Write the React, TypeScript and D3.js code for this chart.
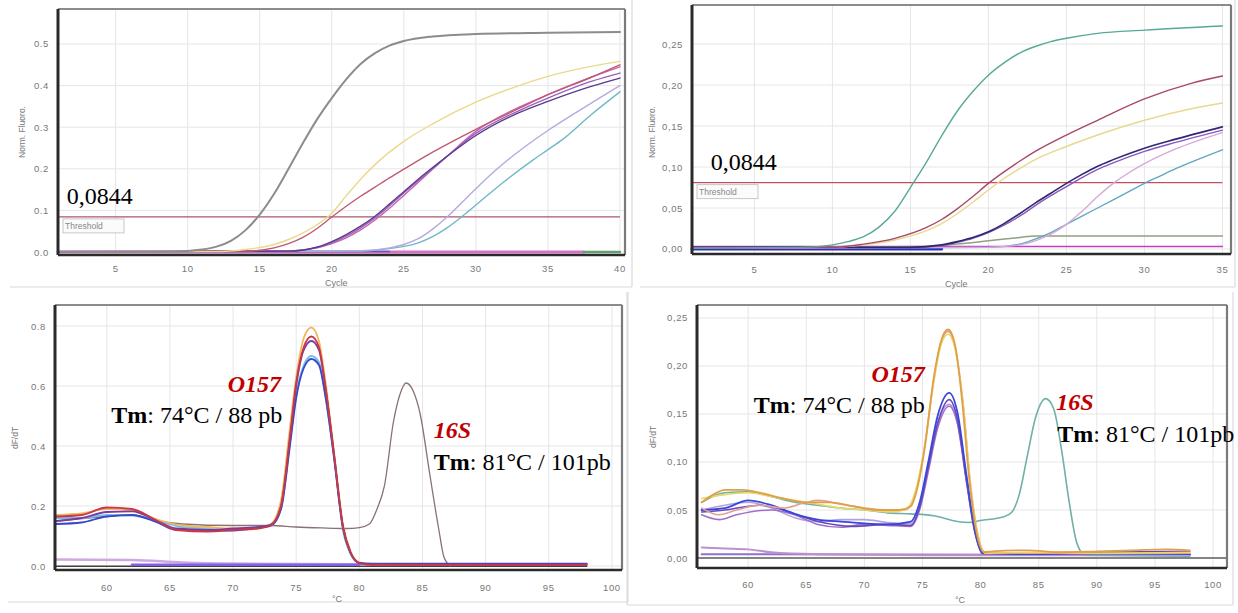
import React from 'react';
import * as d3 from 'd3';

type Pt = [number, number];

interface Series {
    pts: Pt[];
    color: string;
    width?: number;
}

// ---------- top-left: amplification, cycles 1..40 ----------
const ampA_gray: Pt[] = [[1, 0], [9, 0.001], [11, 0.006], [12, 0.013], [13, 0.027], [14, 0.052], [15, 0.09], [16, 0.14], [17, 0.2], [18, 0.262], [19, 0.32], [20, 0.37], [21, 0.415], [22, 0.452], [23, 0.478], [24, 0.496], [25, 0.507], [27, 0.518], [30, 0.524], [35, 0.527], [40, 0.529]];
const ampA_yellow: Pt[] = [[1, 0], [12, 0.001], [14, 0.006], [16, 0.018], [17, 0.03], [18, 0.046], [19, 0.066], [20, 0.093], [21, 0.135], [22, 0.175], [23, 0.21], [24, 0.24], [25, 0.266], [27, 0.308], [30, 0.36], [33, 0.4], [35, 0.422], [38, 0.446], [40, 0.458]];
const ampA_red: Pt[] = [[1, 0], [14, 0.002], [16, 0.01], [17, 0.02], [18, 0.035], [19, 0.057], [20, 0.084], [21, 0.11], [22, 0.134], [23, 0.156], [24, 0.178], [25, 0.199], [27, 0.24], [30, 0.295], [33, 0.345], [35, 0.378], [38, 0.42], [40, 0.45]];
const ampA_purple: Pt[] = [[1, 0], [17, 0.002], [19, 0.012], [20, 0.025], [21, 0.042], [22, 0.062], [23, 0.086], [24, 0.115], [25, 0.145], [26, 0.175], [27, 0.203], [28, 0.23], [30, 0.28], [33, 0.335], [35, 0.362], [38, 0.398], [40, 0.418]];
const ampA_violet: Pt[] = [[1, 0], [17, 0.002], [19, 0.011], [20, 0.022], [21, 0.038], [22, 0.058], [23, 0.082], [24, 0.111], [25, 0.142], [27, 0.2], [30, 0.285], [33, 0.34], [35, 0.37], [38, 0.41], [40, 0.43]];
const ampA_magenta: Pt[] = [[1, 0], [17, 0.002], [19, 0.01], [20, 0.02], [21, 0.034], [22, 0.053], [23, 0.077], [24, 0.105], [25, 0.136], [28, 0.23], [30, 0.29], [33, 0.348], [35, 0.378], [38, 0.42], [40, 0.445]];
const ampA_lavender: Pt[] = [[1, 0], [22, 0.003], [24, 0.01], [25, 0.018], [26, 0.032], [27, 0.055], [28, 0.084], [29, 0.118], [30, 0.152], [31, 0.185], [32, 0.215], [34, 0.268], [35, 0.292], [37, 0.336], [40, 0.4]];
const ampA_teal: Pt[] = [[1, 0], [22, 0.002], [24, 0.008], [26, 0.022], [27, 0.037], [28, 0.058], [29, 0.084], [30, 0.113], [31, 0.142], [32, 0.17], [34, 0.222], [35, 0.246], [36, 0.27], [38, 0.33], [40, 0.385]];
const ampA_pink: Pt[] = [[1, 0], [37.5, 0]];
const ampA_green: Pt[] = [[37.5, 0], [40, 0]];
const ampA_blue: Pt[] = [[1, 0.001], [24, 0.001]];
const ampA_threshold: Pt[] = [[1, 0.0844], [40, 0.0844]];

// ---------- top-right: amplification, cycles 1..35 ----------
const ampB_teal: Pt[] = [[1, 0.001], [8, 0.002], [10, 0.005], [11, 0.009], [12, 0.015], [13, 0.027], [14, 0.046], [15, 0.075], [16, 0.105], [17, 0.138], [18, 0.168], [19, 0.192], [20, 0.212], [21, 0.227], [22, 0.239], [23, 0.247], [24, 0.253], [25, 0.257], [27, 0.263], [30, 0.267], [35, 0.272]];
const ampB_red: Pt[] = [[1, 0.001], [10, 0.002], [12, 0.006], [14, 0.013], [16, 0.026], [17, 0.036], [18, 0.049], [19, 0.064], [20, 0.08], [21, 0.094], [22, 0.107], [23, 0.119], [25, 0.139], [27, 0.157], [30, 0.183], [33, 0.202], [35, 0.211]];
const ampB_yellow: Pt[] = [[1, 0.001], [10, 0.002], [12, 0.005], [14, 0.011], [16, 0.022], [17, 0.031], [18, 0.043], [19, 0.057], [20, 0.072], [21, 0.086], [22, 0.098], [23, 0.109], [25, 0.125], [27, 0.139], [30, 0.157], [33, 0.171], [35, 0.178]];
const ampB_navy: Pt[] = [[1, 0.002], [15, 0.002], [17, 0.005], [18, 0.009], [19, 0.014], [20, 0.021], [21, 0.031], [22, 0.043], [23, 0.056], [24, 0.068], [25, 0.08], [26, 0.091], [27, 0.101], [28, 0.109], [30, 0.123], [32, 0.134], [35, 0.149]];
const ampB_violet: Pt[] = [[1, 0.002], [15, 0.002], [17, 0.004], [18, 0.008], [19, 0.013], [20, 0.02], [21, 0.029], [22, 0.04], [23, 0.053], [24, 0.065], [25, 0.076], [26, 0.087], [27, 0.097], [28, 0.105], [30, 0.119], [32, 0.13], [35, 0.145]];
const ampB_lavender: Pt[] = [[1, 0.001], [20, 0.002], [22, 0.005], [23, 0.01], [24, 0.018], [25, 0.03], [26, 0.046], [27, 0.064], [28, 0.08], [29, 0.093], [30, 0.104], [32, 0.122], [35, 0.142]];
const ampB_cyan: Pt[] = [[1, 0.001], [20, 0.002], [22, 0.006], [23, 0.012], [24, 0.02], [25, 0.03], [26, 0.04], [27, 0.05], [28, 0.06], [29, 0.07], [30, 0.08], [31, 0.089], [32, 0.098], [33, 0.106], [35, 0.121]];
const ampB_olive: Pt[] = [[1, 0.001], [16, 0.003], [18, 0.006], [20, 0.01], [22, 0.014], [23, 0.016], [35, 0.016]];
const ampB_magenta: Pt[] = [[1, 0.003], [35, 0.003]];
const ampB_blue: Pt[] = [[1, 0.0], [17, 0.0]];
const ampB_threshold: Pt[] = [[1, 0.081], [35, 0.081]];

// ---------- bottom-left: melt curves, °C ----------
const meltC_orange: Pt[] = [[56, 0.17], [58, 0.175], [60, 0.19], [62, 0.185], [64, 0.155], [66, 0.135], [68, 0.13], [70, 0.125], [72, 0.128], [73, 0.14], [73.8, 0.22], [74.5, 0.46], [75, 0.63], [75.6, 0.76], [76.2, 0.795], [76.8, 0.75], [77.3, 0.62], [78, 0.38], [78.7, 0.14], [79.3, 0.05], [80, 0.012], [81, 0.005], [98, 0.004]];
const meltC_red: Pt[] = [[56, 0.165], [58, 0.17], [60, 0.195], [62, 0.19], [64, 0.15], [65.5, 0.12], [68, 0.115], [70, 0.12], [72, 0.125], [73, 0.135], [73.8, 0.2], [74.5, 0.43], [75, 0.61], [75.6, 0.73], [76.2, 0.765], [76.8, 0.73], [77.3, 0.6], [78, 0.37], [78.7, 0.13], [79.3, 0.045], [80, 0.01], [81, 0.004], [98, 0.003]];
const meltC_purple: Pt[] = [[56, 0.15], [58, 0.16], [60, 0.18], [62, 0.182], [64, 0.15], [65.5, 0.125], [68, 0.12], [70, 0.125], [72, 0.13], [73, 0.138], [73.8, 0.2], [74.5, 0.42], [75, 0.6], [75.6, 0.72], [76.2, 0.75], [76.8, 0.72], [77.3, 0.6], [78, 0.37], [78.7, 0.13], [79.3, 0.045], [80, 0.01], [81, 0.005], [98, 0.005]];
const meltC_blue: Pt[] = [[56, 0.14], [58, 0.145], [60, 0.165], [62, 0.17], [64, 0.145], [65.5, 0.12], [68, 0.12], [70, 0.118], [72, 0.128], [73, 0.135], [73.8, 0.19], [74.5, 0.4], [75, 0.56], [75.6, 0.66], [76.2, 0.69], [76.8, 0.67], [77.3, 0.57], [78, 0.36], [78.7, 0.13], [79.3, 0.045], [80, 0.01], [81, 0.008], [98, 0.008]];
const meltC_cyan: Pt[] = [[56, 0.16], [58, 0.16], [60, 0.17], [62, 0.168], [64, 0.15], [66, 0.13], [68, 0.125], [70, 0.122], [72, 0.128], [73, 0.134], [73.8, 0.19], [74.5, 0.41], [75, 0.57], [75.6, 0.67], [76.2, 0.7], [76.8, 0.68], [77.3, 0.57], [78, 0.36], [78.7, 0.12], [79.3, 0.04], [80, 0.01], [81, 0.006], [98, 0.006]];
const meltC_gray: Pt[] = [[56, 0.15], [60, 0.165], [62, 0.17], [64, 0.15], [66, 0.14], [70, 0.135], [73, 0.135], [75, 0.13], [77, 0.127], [79, 0.125], [80, 0.128], [80.8, 0.14], [81.4, 0.19], [82, 0.27], [82.7, 0.48], [83.2, 0.57], [83.7, 0.61], [84.3, 0.58], [84.8, 0.51], [85.6, 0.3], [86.3, 0.12], [86.7, 0.03], [87.2, 0.0]];
const meltC_pink: Pt[] = [[56, 0.022], [62, 0.02], [66, 0.012], [70, 0.008], [80, 0.006], [98, 0.006]];
const meltC_violet: Pt[] = [[62, 0.004], [80, 0.004]];
const meltC_dark: Pt[] = [[56, -0.001], [98, -0.001]];

// ---------- bottom-right: melt curves, °C ----------
const meltD_orange: Pt[] = [[56, 0.058], [57, 0.066], [58, 0.071], [59.5, 0.071], [61, 0.068], [63, 0.062], [65, 0.058], [67, 0.058], [69, 0.054], [71, 0.05], [73, 0.05], [74, 0.054], [74.6, 0.075], [75.2, 0.115], [76, 0.19], [76.6, 0.226], [77.2, 0.238], [77.8, 0.222], [78.4, 0.165], [79, 0.085], [79.6, 0.03], [80.3, 0.006], [81, 0.007], [84, 0.008], [87, 0.006], [90, 0.007], [93, 0.008], [96, 0.009], [98, 0.008]];
const meltD_yellow: Pt[] = [[56, 0.062], [58, 0.066], [60, 0.068], [62, 0.064], [64, 0.06], [66, 0.056], [68, 0.052], [70, 0.05], [72, 0.048], [73.5, 0.05], [74.4, 0.07], [75.1, 0.11], [76, 0.185], [76.6, 0.222], [77.2, 0.233], [77.8, 0.218], [78.5, 0.16], [79.1, 0.08], [79.7, 0.028], [80.4, 0.005], [85, 0.006], [90, 0.005], [98, 0.006]];
const meltD_peach: Pt[] = [[56, 0.052], [57.5, 0.045], [59, 0.05], [61, 0.055], [63, 0.052], [65, 0.058], [66, 0.06], [68, 0.056], [70, 0.052], [72, 0.05], [73.5, 0.05], [74.4, 0.068], [75.1, 0.11], [76, 0.188], [76.6, 0.225], [77.2, 0.236], [77.8, 0.22], [78.5, 0.16], [79.1, 0.08], [79.7, 0.028], [80.4, 0.006], [85, 0.005], [98, 0.005]];
const meltD_teal: Pt[] = [[56, 0.058], [58, 0.068], [60, 0.069], [62, 0.064], [64, 0.058], [66, 0.055], [68, 0.052], [70, 0.05], [72, 0.047], [74, 0.046], [76, 0.044], [78, 0.038], [79, 0.037], [80, 0.039], [82, 0.043], [82.7, 0.048], [83.3, 0.065], [84, 0.105], [84.7, 0.145], [85.6, 0.166], [86.3, 0.155], [87, 0.11], [87.6, 0.06], [88.3, 0.015], [89, 0.003], [98, 0.002]];
const meltD_blue: Pt[] = [[56, 0.05], [58, 0.052], [60, 0.06], [62, 0.055], [64, 0.046], [66, 0.04], [68, 0.038], [70, 0.036], [72, 0.035], [74, 0.038], [74.8, 0.06], [75.5, 0.1], [76.3, 0.148], [77.3, 0.172], [78, 0.152], [78.8, 0.085], [79.5, 0.03], [80.2, 0.005], [85, 0.004], [90, 0.005], [98, 0.004]];
const meltD_purple: Pt[] = [[56, 0.048], [58, 0.05], [61, 0.055], [63, 0.05], [66, 0.038], [69, 0.033], [72, 0.035], [74, 0.034], [74.8, 0.055], [75.5, 0.095], [76.3, 0.14], [77.3, 0.165], [78, 0.145], [78.8, 0.08], [79.5, 0.028], [80.2, 0.005], [90, 0.006], [98, 0.007]];
const meltD_violet: Pt[] = [[56, 0.045], [57.5, 0.04], [59, 0.045], [62, 0.05], [64, 0.045], [66, 0.035], [68, 0.032], [70, 0.035], [72, 0.034], [74, 0.033], [74.8, 0.052], [75.5, 0.09], [76.3, 0.135], [77.3, 0.158], [78, 0.14], [78.8, 0.078], [79.5, 0.027], [80.2, 0.004], [98, 0.004]];
const meltD_lilac: Pt[] = [[56, 0.05], [58, 0.055], [60, 0.058], [62, 0.052], [64, 0.042], [66, 0.038], [68, 0.04], [70, 0.04], [72, 0.037], [74, 0.036], [74.8, 0.055], [75.5, 0.095], [76.3, 0.14], [77.3, 0.16], [78, 0.142], [78.8, 0.08], [79.5, 0.028], [80.2, 0.005], [90, 0.004], [98, 0.003]];
const meltD_pink: Pt[] = [[56, 0.011], [58, 0.01], [60, 0.009], [62, 0.006], [66, 0.004], [75, 0.003], [98, 0.003]];
const meltD_lavender: Pt[] = [[56, 0.004], [98, 0.003]];
const meltD_zero: Pt[] = [[55.6, 0], [101.2, 0]];

// ---------- ticks ----------
const ampA_xTicks = [5, 10, 15, 20, 25, 30, 35, 40];
const ampA_yTicks = [0, 0.1, 0.2, 0.3, 0.4, 0.5];
const ampB_xTicks = [5, 10, 15, 20, 25, 30, 35];
const ampB_yTicks = [0, 0.05, 0.1, 0.15, 0.2, 0.25];
const meltC_xTicks = [60, 65, 70, 75, 80, 85, 90, 95, 100];
const meltC_yTicks = [0, 0.2, 0.4, 0.6, 0.8];
const meltD_xTicks = [60, 65, 70, 75, 80, 85, 90, 95, 100];
const meltD_yTicks = [0, 0.05, 0.1, 0.15, 0.2, 0.25];

const dot1 = d3.format('.1f');
const comma2 = (v: number) => d3.format('.2f')(v).replace('.', ',');

interface Note {
    at: Pt;
    anchor: 'start' | 'end';
    parts: { t: string; bold?: boolean; italic?: boolean; color?: string }[];
}

interface PanelProps {
    frame: { x0: number; y0: number; x1: number; y1: number };
    border: [number, number, number, number][];
    xDomain: [number, number];
    yDomain: [number, number];
    xTicks: number[];
    yTicks: number[];
    yFmt: (v: number) => string;
    xTickDy: number;
    series: Series[];
    xTitle: string;
    xTitlePos: [number, number];
    yTitle: string;
    yTitlePos: [number, number];
    threshold?: Pt[];
    thresholdColor?: string;
    notes: Note[];
}

const SERIF = '"Liberation Serif", "Times New Roman", serif';
const SANS = '"Liberation Sans", Arial, sans-serif';

const Panel: React.FC<PanelProps> = (p) => {
    const { frame } = p;
    const x = d3.scaleLinear().domain(p.xDomain).range([frame.x0, frame.x1]);
    const y = d3.scaleLinear().domain(p.yDomain).range([frame.y1, frame.y0]);
    const line = d3.line<Pt>()
        .x(d => x(d[0]))
        .y(d => y(d[1]))
        .curve(d3.curveMonotoneX);

    const thrY = p.threshold ? y(p.threshold[0][1]) : 0;

    return (
        <g>
            {/* faint outer border of the screenshot */}
            {p.border.map((b, i) => (
                <line key={'b' + i} x1={b[0]} y1={b[1]} x2={b[2]} y2={b[3]} stroke="#dadada" strokeWidth={1.2} />
            ))}

            {/* grid */}
            {p.xTicks.map(t => (
                <line key={'gx' + t} x1={x(t)} x2={x(t)} y1={frame.y0} y2={frame.y1} stroke="#e6e6e6" strokeWidth={1} />
            ))}
            {p.yTicks.map(t => (
                <line key={'gy' + t} x1={frame.x0} x2={frame.x1} y1={y(t)} y2={y(t)} stroke="#e6e6e6" strokeWidth={1} />
            ))}

            {/* tick labels */}
            {p.xTicks.map(t => (
                <text key={'tx' + t} x={x(t)} y={frame.y1 + p.xTickDy} textAnchor="middle"
                    fontFamily={SANS} fontSize={9.5} fill="#777" letterSpacing={0.6}>{t}</text>
            ))}
            {p.yTicks.map(t => (
                <text key={'ty' + t} x={frame.x0 - 9} y={y(t) + 3.5} textAnchor="end"
                    fontFamily={SANS} fontSize={9.5} fill="#777" letterSpacing={0.6}>{p.yFmt(t)}</text>
            ))}

            <text x={p.xTitlePos[0]} y={p.xTitlePos[1]} fontFamily={SANS} fontSize={9} fill="#777">{p.xTitle}</text>
            <text transform={`translate(${p.yTitlePos[0]},${p.yTitlePos[1]}) rotate(-90)`} textAnchor="middle"
                fontFamily={SANS} fontSize={8.5} fill="#777">{p.yTitle}</text>

            {/* threshold */}
            {p.threshold && (
                <g>
                    <path d={line(p.threshold) || ''} fill="none" stroke={p.thresholdColor} strokeWidth={1.3} />
                    <rect x={frame.x0 + 5} y={thrY + 2} width={61} height={14} fill="#fbfbfb" stroke="#c8c8c8" strokeWidth={1} />
                    <text x={frame.x0 + 7} y={thrY + 12.5} fontFamily={SANS} fontSize={8.5} fill="#888">Threshold</text>
                </g>
            )}

            {/* curves */}
            {p.series.map((s, i) => (
                <path key={'s' + i} d={line(s.pts) || ''} fill="none" stroke={s.color}
                    strokeWidth={s.width ?? 1.4} strokeLinejoin="round" strokeLinecap="round" />
            ))}

            {/* frame */}
            <line x1={frame.x0} x2={frame.x1} y1={frame.y0} y2={frame.y0} stroke="#8c8c8c" strokeWidth={2.2} />
            <line x1={frame.x1} x2={frame.x1} y1={frame.y0} y2={frame.y1} stroke="#7a7a7a" strokeWidth={2.2} />
            <line x1={frame.x0} x2={frame.x1} y1={frame.y1} y2={frame.y1} stroke="#2a2a2a" strokeWidth={2.5} />
            <line x1={frame.x0} x2={frame.x0} y1={frame.y0} y2={frame.y1} stroke="#2a2a2a" strokeWidth={3} />

            {/* annotations */}
            {p.notes.map((n, i) => (
                <text key={'n' + i} x={x(n.at[0])} y={y(n.at[1])} textAnchor={n.anchor}
                    fontFamily={SERIF} fontSize={24} fill="#000">
                    {n.parts.map((pt, j) => (
                        <tspan key={j} fontWeight={pt.bold ? 'bold' : 'normal'}
                            fontStyle={pt.italic ? 'italic' : 'normal'} fill={pt.color || '#000'}>{pt.t}</tspan>
                    ))}
                </text>
            ))}
        </g>
    );
};

const RED = '#c00000';

const App: React.FC = () => {
    return (
        <svg width={1238} height={613} style={{ position: 'absolute', left: 0, top: 0, background: '#fff' }}>
            <rect width={1238} height={613} fill="#fff" />
            <Panel
                frame={{ x0: 58, y0: 9, x1: 625, y1: 255 }}
                border={[[10, 287, 632, 287], [632, 0, 632, 287]]}
                xDomain={[1, 40.35]}
                yDomain={[-0.0072, 0.584]}
                xTicks={ampA_xTicks}
                yTicks={ampA_yTicks}
                yFmt={dot1}
                xTickDy={17}
                xTitle="Cycle"
                xTitlePos={[325, 286]}
                yTitle="Norm. Fluoro."
                yTitlePos={[25, 132]}
                threshold={ampA_threshold}
                thresholdColor="#a85868"
                series={[
                    { pts: ampA_pink, color: '#d870c8', width: 2.8 },
                    { pts: ampA_green, color: '#60a070', width: 2.5 },
                    { pts: ampA_blue, color: '#7050c0', width: 1.5 },
                    { pts: ampA_teal, color: '#70b8c8' },
                    { pts: ampA_lavender, color: '#b8a8e0' },
                    { pts: ampA_magenta, color: '#c860b0' },
                    { pts: ampA_violet, color: '#9a60c0' },
                    { pts: ampA_purple, color: '#5a3a8a' },
                    { pts: ampA_red, color: '#c05a70' },
                    { pts: ampA_yellow, color: '#ead98a' },
                    { pts: ampA_gray, color: '#8c8c8c', width: 2 },
                ]}
                notes={[
                    { at: [1.6, 0.115], anchor: 'start', parts: [{ t: '0,0844' }] },
                ]}
            />
            <Panel
                frame={{ x0: 692, y0: 5, x1: 1231, y1: 254 }}
                border={[[640, 287, 1235, 287], [1235, 0, 1235, 287]]}
                xDomain={[1, 35.55]}
                yDomain={[-0.0061, 0.2976]}
                xTicks={ampB_xTicks}
                yTicks={ampB_yTicks}
                yFmt={comma2}
                xTickDy={19}
                xTitle="Cycle"
                xTitlePos={[945, 287]}
                yTitle="Norm. Fluoro."
                yTitlePos={[655, 132]}
                threshold={ampB_threshold}
                thresholdColor="#c05060"
                series={[
                    { pts: ampB_blue, color: '#3030c0', width: 3 },
                    { pts: ampB_magenta, color: '#c040c0', width: 1.5 },
                    { pts: ampB_olive, color: '#90a080', width: 1.5 },
                    { pts: ampB_cyan, color: '#60a8c0' },
                    { pts: ampB_lavender, color: '#d8a8d8' },
                    { pts: ampB_violet, color: '#8858c0' },
                    { pts: ampB_navy, color: '#302870', width: 1.6 },
                    { pts: ampB_yellow, color: '#e8d890' },
                    { pts: ampB_red, color: '#a84868' },
                    { pts: ampB_teal, color: '#58a898' },
                ]}
                notes={[
                    { at: [2.2, 0.096], anchor: 'start', parts: [{ t: '0,0844' }] },
                ]}
            />
            <Panel
                frame={{ x0: 55, y0: 305, x1: 622, y1: 570 }}
                border={[[8, 602, 628, 602], [628, 292, 628, 602]]}
                xDomain={[55.9, 100.8]}
                yDomain={[-0.0133, 0.87]}
                xTicks={meltC_xTicks}
                yTicks={meltC_yTicks}
                yFmt={dot1}
                xTickDy={21}
                xTitle="°C"
                xTitlePos={[332, 602]}
                yTitle="dF/dT"
                yTitlePos={[18, 438]}
                series={[
                    { pts: meltC_dark, color: '#404040', width: 1.5 },
                    { pts: meltC_pink, color: '#d0a8e0', width: 2.5 },
                    { pts: meltC_violet, color: '#8060e8', width: 2.5 },
                    { pts: meltC_gray, color: '#8a7272', width: 1.3 },
                    { pts: meltC_cyan, color: '#70c0e8', width: 1.8 },
                    { pts: meltC_orange, color: '#f0b860', width: 1.8 },
                    { pts: meltC_blue, color: '#3848c8', width: 1.8 },
                    { pts: meltC_purple, color: '#7a3aa0', width: 1.8 },
                    { pts: meltC_red, color: '#c83848', width: 1.8 },
                ]}
                notes={[
                    { at: [73.8, 0.58], anchor: 'end', parts: [{ t: 'O157', bold: true, italic: true, color: RED }] },
                    { at: [73.9, 0.477], anchor: 'end', parts: [{ t: 'Tm', bold: true }, { t: ': 74°C / 88 pb' }] },
                    { at: [85.9, 0.427], anchor: 'start', parts: [{ t: '16S', bold: true, italic: true, color: RED }] },
                    { at: [85.9, 0.32], anchor: 'start', parts: [{ t: 'Tm', bold: true }, { t: ': 81°C / 101pb' }] },
                ]}
            />
            <Panel
                frame={{ x0: 697, y0: 305, x1: 1227, y1: 568 }}
                border={[[627, 292, 627, 605], [627, 605, 1233, 605], [1233, 292, 1233, 605]]}
                xDomain={[55.6, 101.2]}
                yDomain={[-0.0104, 0.2635]}
                xTicks={meltD_xTicks}
                yTicks={meltD_yTicks}
                yFmt={comma2}
                xTickDy={20}
                xTitle="°C"
                xTitlePos={[955, 603]}
                yTitle="dF/dT"
                yTitlePos={[656, 437]}
                series={[
                    { pts: meltD_zero, color: '#606060', width: 1.3 },
                    { pts: meltD_lavender, color: '#9070d0', width: 2 },
                    { pts: meltD_pink, color: '#c090c8', width: 2 },
                    { pts: meltD_teal, color: '#70b0a8', width: 1.6 },
                    { pts: meltD_lilac, color: '#b8a0e0', width: 1.6 },
                    { pts: meltD_violet, color: '#a070c8', width: 1.6 },
                    { pts: meltD_purple, color: '#6848b8', width: 1.6 },
                    { pts: meltD_blue, color: '#3848d8', width: 1.8 },
                    { pts: meltD_peach, color: '#e0a098', width: 1.6 },
                    { pts: meltD_yellow, color: '#e8d868', width: 1.6 },
                    { pts: meltD_orange, color: '#e0a048', width: 1.8 },
                ]}
                notes={[
                    { at: [75.2, 0.183], anchor: 'end', parts: [{ t: 'O157', bold: true, italic: true, color: RED }] },
                    { at: [75.2, 0.151], anchor: 'end', parts: [{ t: 'Tm', bold: true }, { t: ': 74°C / 88 pb' }] },
                    { at: [86.5, 0.154], anchor: 'start', parts: [{ t: '16S', bold: true, italic: true, color: RED }] },
                    { at: [86.6, 0.121], anchor: 'start', parts: [{ t: 'Tm', bold: true }, { t: ': 81°C / 101pb' }] },
                ]}
            />
        </svg>
    );
};

export default App;
